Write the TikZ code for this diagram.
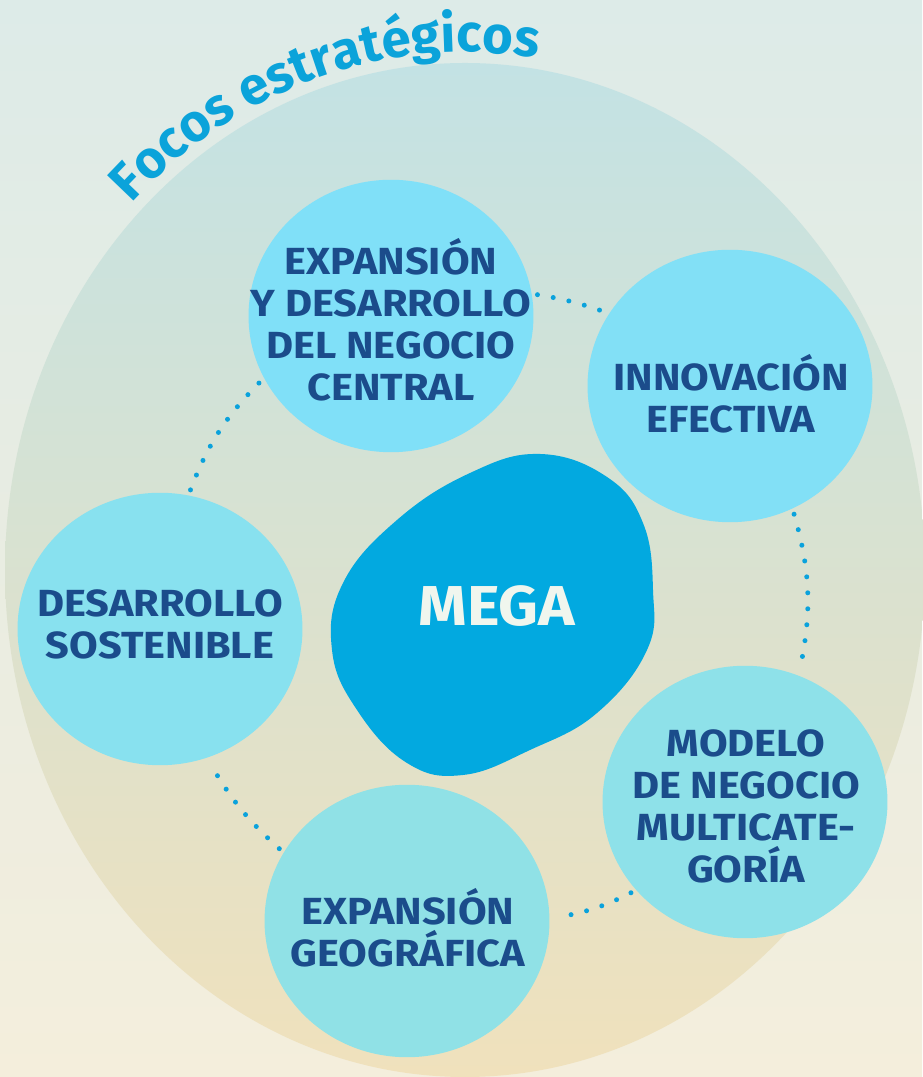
\documentclass[tikz,border=0pt]{standalone}
\usepackage{fontspec}
\setmainfont{Fira Sans}[FakeStretch=1.1]
\newfontfamily\titlefam{Fira Sans}
\usetikzlibrary{shapes.geometric}
\usetikzlibrary{decorations.text}
\definecolor{bgtop}{HTML}{DDEBE8}
\definecolor{bgbot}{HTML}{F4EEDC}
\definecolor{ringtop}{HTML}{C3E2E4}
\definecolor{ringbot}{HTML}{F0E1BC}
\definecolor{titleblue}{HTML}{0BA3DA}
\definecolor{megablue}{HTML}{02A9E0}
\definecolor{megatext}{HTML}{F0F6EE}
\definecolor{foco}{HTML}{1B4C8B}
\definecolor{dotblue}{HTML}{0AA2DC}
\definecolor{blobA}{HTML}{80E0F8}
\definecolor{blobB}{HTML}{82E0F6}
\definecolor{blobC}{HTML}{88E1EF}
\definecolor{blobD}{HTML}{90E1E6}
\definecolor{blobE}{HTML}{8EE1E9}
\newcommand{\titlefont}{\titlefam\bfseries\fontsize{30}{32}\selectfont}

\begin{document}
\begin{tikzpicture}[x=0.02cm, y=0.02cm,
    blob/.style = {ellipse, fill=#1, minimum width=5.7cm, minimum height=5.45cm,
                inner sep=0pt, outer sep=0pt},
    blob/.default = blobA,  % fill of the focus bubbles
    lbl/.style = {align=center, text=foco, font=\bfseries\fontsize{21.5}{23.9}\selectfont},
    dots/.style = {draw=dotblue, line width=0.1cm, line cap=round,
                dash pattern=on 0pt off 0.32cm, shorten <=0.12cm, shorten >=0.12cm}
                    ]
        \useasboundingbox (0,0) rectangle (922,1077);
        \shade[top color=bgtop, bottom color=bgbot] (0,0) rectangle (922,1077);
        \shade[top color=ringtop, bottom color=ringbot] (465,507) ellipse [x radius=460, y radius=507];
        % title along the ring
        \path[decorate, decoration={text along path, text align=center,
                text={|\titlefont\color{titleblue}|Focos estratégicos}}]
            (465,507) ++(137:472 and 518) arc[start angle=137, end angle=79, x radius=472, y radius=518];
        % centre
        \fill[megablue] plot[smooth cycle, tension=0.7] coordinates {(653,487) (647,427) (597,364)
            (530,327) (463,302) (407,314) (357,367) (332,427) (343,494) (397,557) (470,604)
            (540,623) (607,600) (643,554)};
        \node[text=megatext, font=\bfseries\fontsize{32}{36}\selectfont] (mega) at (497,471) {MEGA};
        % focus bubbles
        \node[blob=blobA] at (391,761) (ndc) {};
        \node[blob=blobB] at (730,691) (inv) {};
        \node[blob=blobC] at (160,448) (sos) {};
        \node[blob=blobD] at (407,156) (geo) {};
        \node[blob=blobE] at (745,275) (mul) {};
        \node[lbl] at (391,757) {EXPANSIÓN\\Y DESARROLLO\\DEL NEGOCIO\\CENTRAL};
        \node[lbl] at (731,683) {INNOVACIÓN\\EFECTIVA};
        \node[lbl] at (160,453) {DESARROLLO\\SOSTENIBLE};
        \node[lbl] at (408,149) {EXPANSIÓN\\GEOGRÁFICA};
        \node[lbl] at (746,271) {MODELO\\DE NEGOCIO\\MULTICATE-\\GORÍA};
        \draw[dots] (ndc.9) to[bend left=5] (inv.149);
        \draw[dots] (inv.-63) to[bend left=14] (mul.67);
        \draw[dots] (mul.219) to[bend left=9] (geo.1);
        \draw[dots] (geo.151) to[bend left=9] (sos.-70);
        \draw[dots] (sos.78) to[bend left=12] (ndc.206);
    \end{tikzpicture}
\end{document}
